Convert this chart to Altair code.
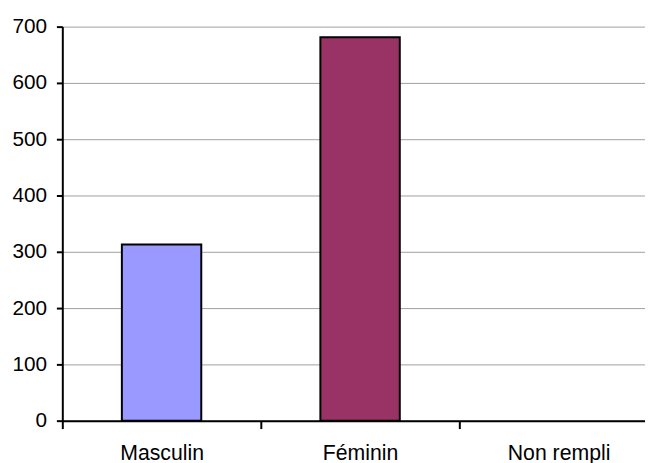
import altair as alt
import pandas as pd

categories = ["Masculin", "Féminin", "Non rempli"]
values = [313, 681, 0]
colors = ["#9999FF", "#993366", "#FFFFC0"]

df = pd.DataFrame({"cat": categories, "val": values})

FONT = "Liberation Sans"

chart = alt.Chart(df).mark_bar(
    width=alt.RelativeBandSize(0.4), stroke="black"
).encode(
    x=alt.X("cat:N", sort=categories,
            scale=alt.Scale(domain=categories, range=[0, 603], paddingInner=0, paddingOuter=0),
            axis=alt.Axis(title=None, labelAngle=0, tickBand="extent", tickSize=8,
                          labelPadding=14, labelFontSize=21.5, labelFont=FONT,
                          labelColor="black", domainColor="black", domainWidth=2,
                          tickColor="black", tickWidth=2, grid=False)),
    y=alt.Y("val:Q",
            scale=alt.Scale(domain=[0, 700], nice=False),
            axis=alt.Axis(title=None, values=list(range(0, 701, 100)), tickSize=6,
                          labelPadding=10, labelFontSize=21, labelFont=FONT,
                          labelColor="black", domainColor="black", domainWidth=2,
                          tickColor="black", tickWidth=2, grid=True,
                          gridColor="#A0A0A0", gridWidth=1)),
    fill=alt.Fill("cat:N", scale=alt.Scale(domain=categories, range=colors), legend=None),
    strokeWidth=alt.condition("datum.val > 0", alt.value(2), alt.value(0)),
).properties(
    width=590, height=399,
    autosize=alt.AutoSizeParams(type="none"),
    padding={"left": 55, "top": 16, "right": 0, "bottom": 40},
).configure_view(stroke=None)

chart.save("out.html", embed_options={"renderer": "svg", "actions": False})
